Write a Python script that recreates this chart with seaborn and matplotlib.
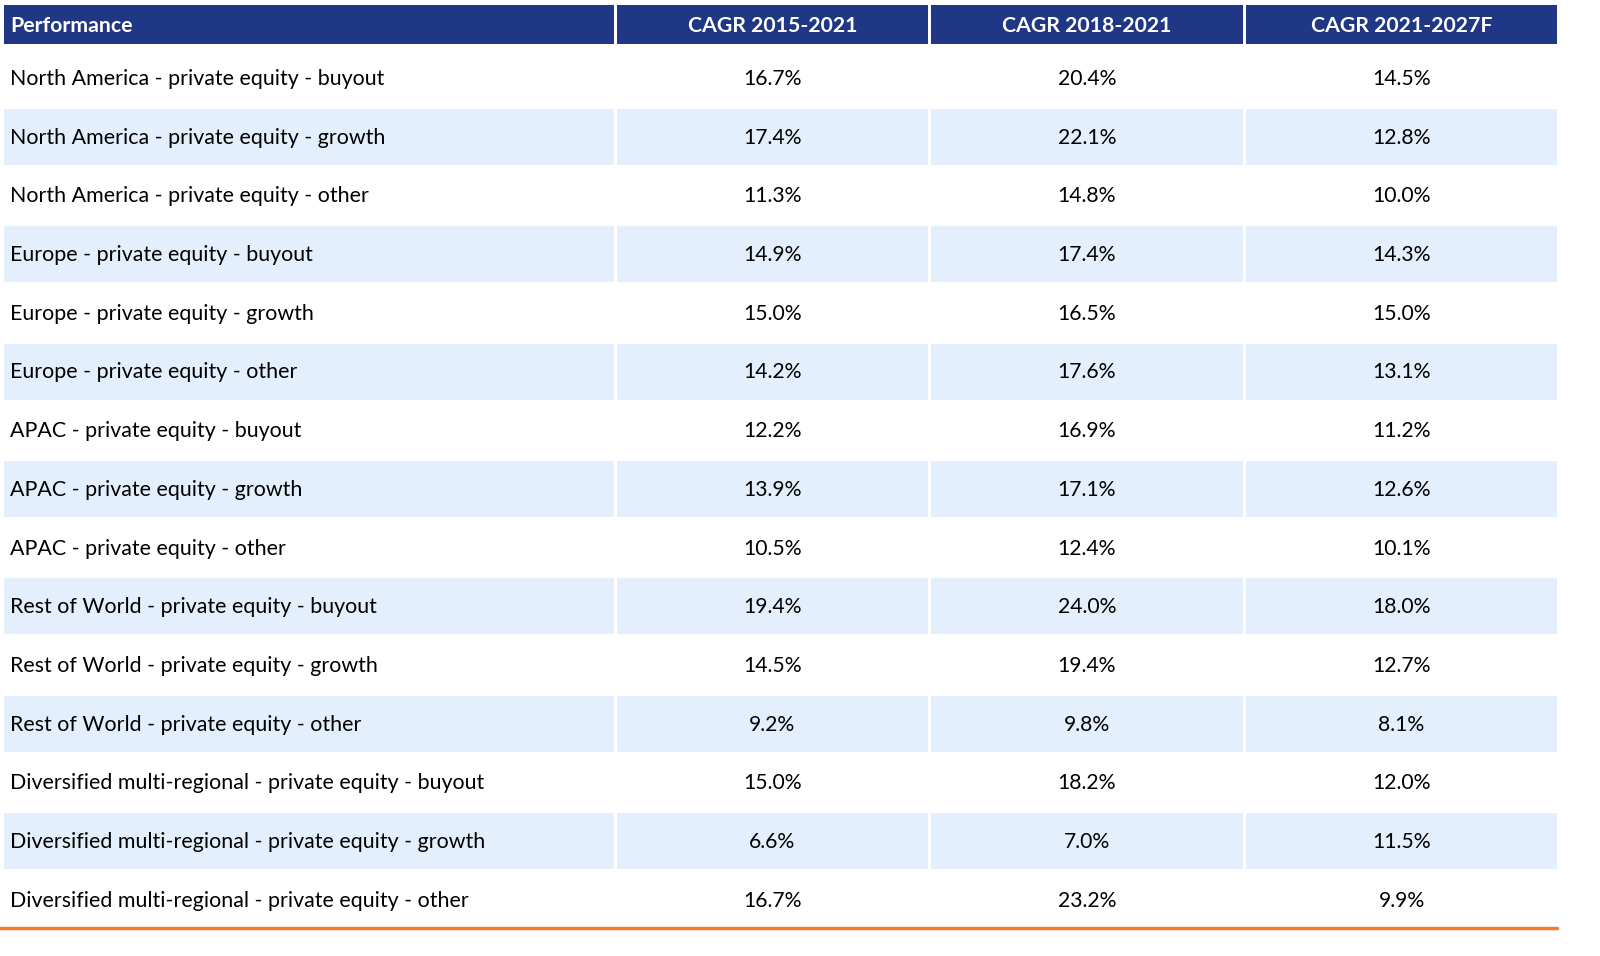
import numpy as np
import pandas as pd
import seaborn as sns
import matplotlib.pyplot as plt

# table data
headers = ["Performance", "CAGR 2015-2021", "CAGR 2018-2021", "CAGR 2021-2027F"]
segments = [
    "North America - private equity - buyout",
    "North America - private equity - growth",
    "North America - private equity - other",
    "Europe - private equity - buyout",
    "Europe - private equity - growth",
    "Europe - private equity - other",
    "APAC - private equity - buyout",
    "APAC - private equity - growth",
    "APAC - private equity - other",
    "Rest of World - private equity - buyout",
    "Rest of World - private equity - growth",
    "Rest of World - private equity - other",
    "Diversified multi-regional - private equity - buyout",
    "Diversified multi-regional - private equity - growth",
    "Diversified multi-regional - private equity - other",
]
cagr_2015_2021 = [16.7, 17.4, 11.3, 14.9, 15.0, 14.2, 12.2, 13.9, 10.5, 19.4, 14.5, 9.2, 15.0, 6.6, 16.7]
cagr_2018_2021 = [20.4, 22.1, 14.8, 17.4, 16.5, 17.6, 16.9, 17.1, 12.4, 24.0, 19.4, 9.8, 18.2, 7.0, 23.2]
cagr_2021_2027 = [14.5, 12.8, 10.0, 14.3, 15.0, 13.1, 11.2, 12.6, 10.1, 18.0, 12.7, 8.1, 12.0, 11.5, 9.9]

df = pd.DataFrame({
    headers[0]: segments,
    headers[1]: cagr_2015_2021,
    headers[2]: cagr_2018_2021,
    headers[3]: cagr_2021_2027,
})

sns.set_theme(style="white")
plt.rcParams['font.family'] = ['Lato', 'DejaVu Sans']

navy = "#1f3784"
stripe = "#e3effc"
orange = "#f47b30"

# layout in pixel units
col_left = [4, 617, 931, 1246]
col_width = [610, 311, 312, 311]
header_top, header_h = 5, 39
row0, pitch, cell_h = 78, 58.7, 56

fig = plt.figure(figsize=(16, 9.56), dpi=100)
ax = fig.add_axes([0, 0, 1, 1])
ax.set_xlim(0, 1600)
ax.set_ylim(956, 0)
ax.axis("off")

# header cells
for j, h in enumerate(headers):
    ax.barh(header_top + header_h / 2, col_width[j], height=header_h, left=col_left[j],
            color=navy, edgecolor="none")
    if j == 0:
        ax.text(col_left[j] + 6, header_top + header_h / 2 + 1, h, color="white",
                fontsize=15.3, fontweight="bold", ha="left", va="center")
    else:
        ax.text(col_left[j] + col_width[j] / 2, header_top + header_h / 2 + 1, h,
                color="white", fontsize=15.3, fontweight="bold", ha="center", va="center")

# body rows
ys = row0 + pitch * np.arange(len(df))
for i, (_, r) in enumerate(df.iterrows()):
    y = ys[i]
    if i % 2 == 1:
        for j in range(4):
            ax.barh(y, col_width[j], height=cell_h, left=col_left[j],
                    color=stripe, edgecolor="none")
    ax.text(col_left[0] + 6, y + 1, r[headers[0]], fontsize=15.4, color="#000000",
            ha="left", va="center")
    for j in range(1, 4):
        ax.text(col_left[j] + col_width[j] / 2, y + 1, f"{r[headers[j]]:.1f}%",
                fontsize=15.2, color="#000000", ha="center", va="center")

# bottom orange rule
ax.axhline(ys[-1] + pitch / 2 - 1, xmin=0, xmax=1557 / 1600, color=orange, lw=2.5)

fig.savefig("out.png", dpi=100, facecolor="white")
